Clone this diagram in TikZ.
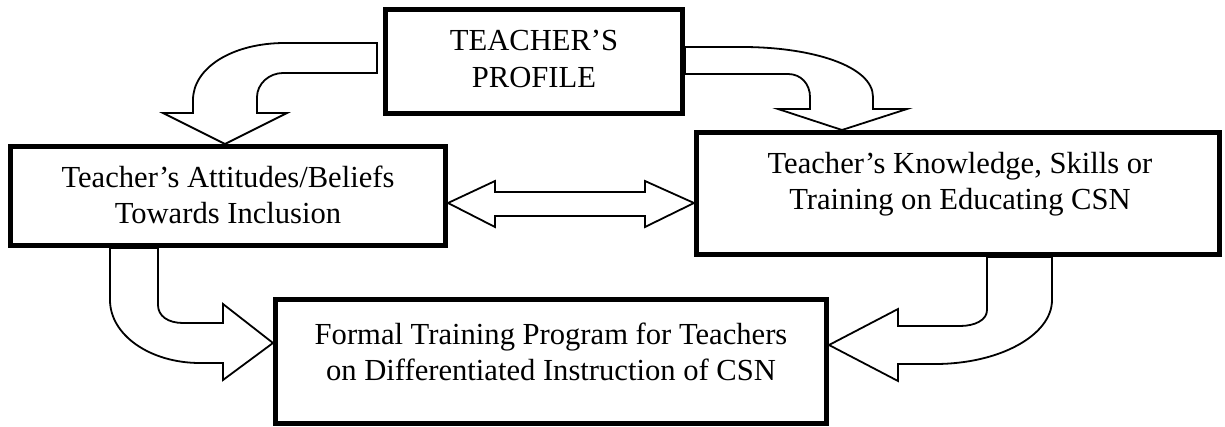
\documentclass[tikz,border=0pt]{standalone}
\usepackage{fontspec}
\setmainfont{Liberation Serif}
\usepackage{tikz}
\usetikzlibrary{calc}
\usetikzlibrary{positioning}
\usetikzlibrary{backgrounds}

\tikzset{
  box/.style={draw=black, line width=2.5pt, inner sep=0pt},
  boxtext/.style={align=center, inner sep=0pt, font=\fontsize{15.3}{18.3}\selectfont},
  blockarrow/.style={draw=black, fill=white, line width=0.9pt, line join=miter},
}

\begin{document}
\begin{tikzpicture}[x=0.5pt, y=-0.5pt]
            % Frame to fix the page size:
            \useasboundingbox (0,0) rectangle (1225,427);

            % Boxes
            \node[box, minimum width=148.5pt, minimum height=52pt]   (profile)    at (534,61.5)  {};
            \node[box, minimum width=217.5pt, minimum height=49.5pt] (attitudes)  at (228,196)   {};
            \node[box, minimum width=261.5pt, minimum height=61pt]   (knowledge)  at (958,193.5) {};
            \node[box, minimum width=275.5pt, minimum height=62pt]   (formal)     at (551,361.5) {};

            \node[boxtext] (profile-txt)   at (534,59)  {TEACHER’S\\PROFILE};
            \node[boxtext] (attitudes-txt) at (228,195) {Teacher’s Attitudes/Beliefs\\Towards Inclusion};
            \node[boxtext] (knowledge-txt) at (960,184) {Teacher’s Knowledge, Skills or\\Training on Educating CSN};
            \node[boxtext] (formal-txt)    at (551,352) {Formal Training Program for Teachers\\on Differentiated Instruction of CSN};

            \coordinate (pl) at ([xshift=-3pt]profile.west);
            \coordinate (pr) at (profile.east);

            \begin{pgfonlayer}{background}
            % profile -> attitudes
            \draw[blockarrow] (pl |- 0,43) -- (285,43) .. controls (232,43) and (193,68) .. (193,100)
                 -- (193,113) -- (163,113) -- (attitudes.north -| 225,0) -- (287,113) -- (257,113)
                 -- (257,97) .. controls (257,84) and (269,73) .. (283,73) -- (pl |- 0,73) -- cycle;
            % profile -> knowledge
            \draw[blockarrow] (pr |- 0,47) -- (742,47) .. controls (812,47) and (873,66) .. (873,97)
                 -- (873,109) -- (907,109) -- (knowledge.north -| 842,0) -- (778,109) -- (810,109)
                 -- (810,97) .. controls (810,84) and (801,74) .. (788,74) -- (pr |- 0,74) -- cycle;
            % attitudes <-> knowledge
            \draw[blockarrow] (attitudes.east |- 0,203) -- (495,181) -- (495,192) -- (645,192) -- (645,181)
                 -- (knowledge.west |- 0,203) -- (645,227) -- (645,216) -- (495,216) -- (495,227) -- cycle;
            % attitudes -> formal
            \draw[blockarrow] (attitudes.south -| 110,0) -- (110,300) .. controls (110,335) and (150,363) .. (200,363)
                 -- (223,363) -- (223,380) -- (formal.west |- 0,343) -- (223,304) -- (223,323) -- (183,323)
                 .. controls (168,323) and (158,316) .. (158,305) -- (attitudes.south -| 158,0) -- cycle;
            % knowledge -> formal
            \draw[blockarrow] (knowledge.south -| 987,0) -- (987,310) .. controls (987,320) and (975,326) .. (960,326)
                 -- (898,326) -- (898,309) -- (formal.east |- 0,345) -- (898,381) -- (898,364) -- (935,364)
                 .. controls (1000,364) and (1052,335) .. (1052,300) -- (knowledge.south -| 1052,0) -- cycle;
            \end{pgfonlayer}
        \end{tikzpicture}
\end{document}
